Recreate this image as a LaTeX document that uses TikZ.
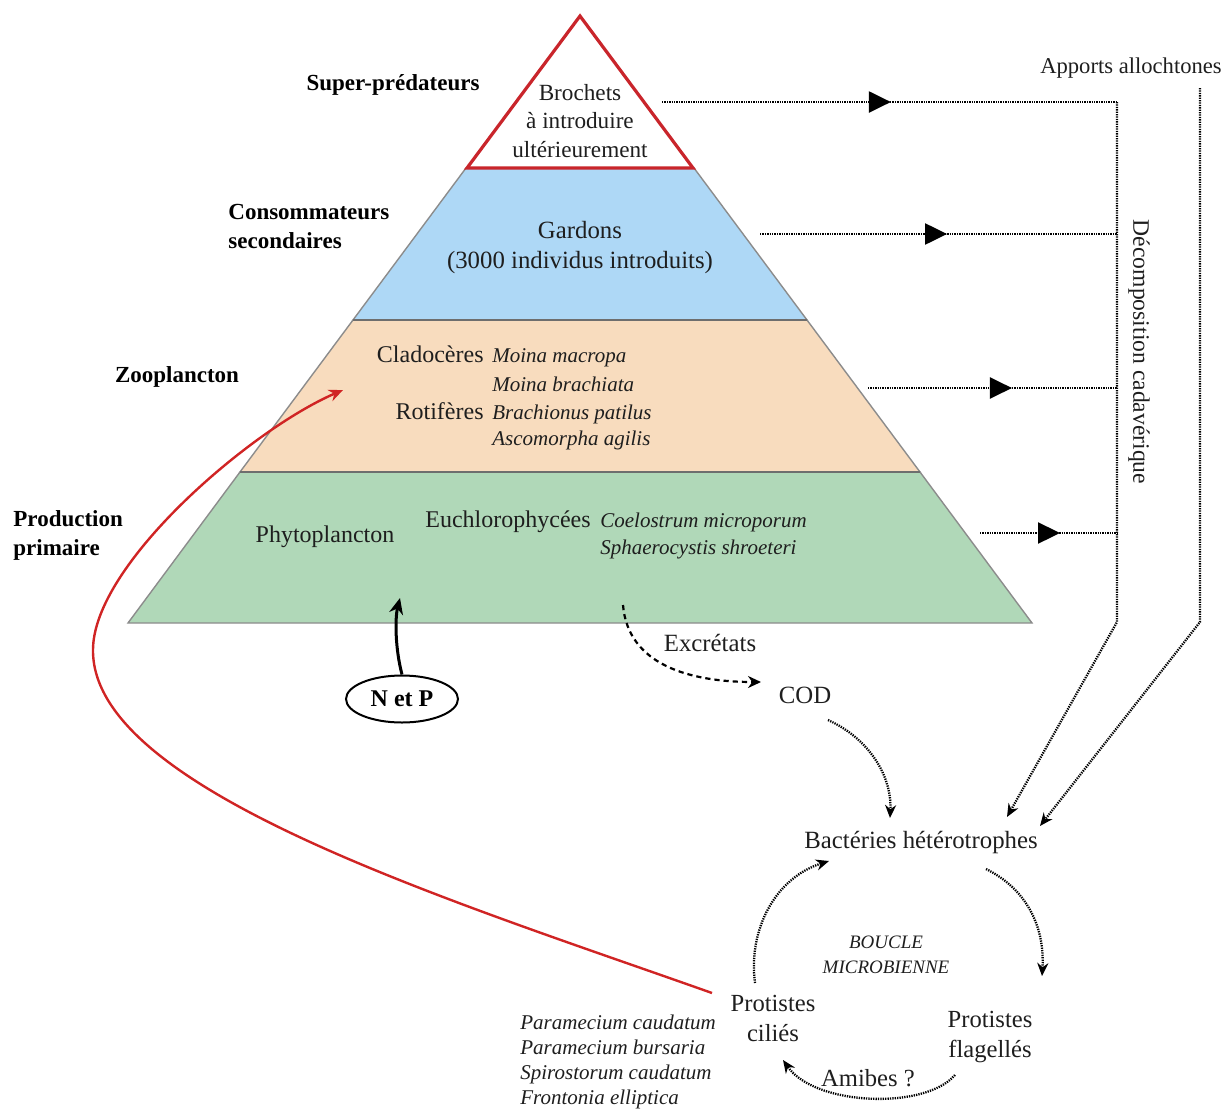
\documentclass[tikz,border=0pt]{standalone}
\usepackage{fontspec}
\setmainfont{Liberation Serif}
\usetikzlibrary{arrows.meta,decorations.markings,calc,shapes.geometric}
\definecolor{pyrblue}{HTML}{AED8F6}
\definecolor{pyrpeach}{HTML}{F8DCBE}
\definecolor{pyrgreen}{HTML}{B0D8B8}
\definecolor{pyrred}{HTML}{C9252B}
\definecolor{edgegray}{HTML}{8C8C8C}
\definecolor{sepgray}{HTML}{6E6E6E}
\definecolor{redarrow}{HTML}{D02424}
\definecolor{txtdark}{HTML}{1E1E1E}
\begin{document}
\begin{tikzpicture}[x=0.5pt,y=-0.5pt,
  txt/.style={font=\fontsize{12}{14.5}\selectfont, inner sep=0pt, align=center, text=txtdark},
  big/.style={font=\fontsize{12.4}{15}\selectfont, inner sep=0pt, align=center, text=txtdark},
  spc/.style={font=\fontsize{10.5}{12.5}\selectfont\itshape, inner sep=0pt, anchor=west, text=txtdark, text height=0.7em, text depth=0.2em},
  lvl/.style={font=\fontsize{11.5}{14.5}\selectfont\bfseries, inner sep=0pt, align=left},
  dotline/.style={line width=1.15pt, dash pattern=on 0.65pt off 0.55pt},
  loophead/.style={-{Stealth[length=6.5pt,width=5.5pt]}},
  midarr/.style={postaction={decorate}, decoration={markings, mark=at position #1 with {\arrow{Triangle[length=11pt,width=10.5pt]}}}}
]
\useasboundingbox (0,0) rectangle (1227,1109);
% pyramid layers
\path[fill=pyrgreen, draw=edgegray, line width=0.7pt] (240,472) -- (920,472) -- (1032,623) -- (128,623) -- cycle;
\path[fill=pyrpeach, draw=edgegray, line width=0.7pt] (353,320) -- (807,320) -- (920,472) -- (240,472) -- cycle;
\path[fill=pyrblue, draw=edgegray, line width=0.7pt] (466,168) -- (694,168) -- (807,320) -- (353,320) -- cycle;
\draw[sepgray, line width=0.9pt] (353,320) -- (807,320);
\draw[sepgray, line width=0.9pt] (240,472) -- (920,472);
\draw[pyrred, fill=white, line width=1.6pt, line join=miter] (580,16) -- (693,168) -- (467,168) -- cycle;

% pyramid texts
\node[txt, font=\fontsize{11.6}{14.25}\selectfont] (brochets) at (580,121) {Brochets\\à introduire\\ultérieurement};
\node[big] (gardons) at (580,248) {Gardons\\(3000 individus introduits)};
\node[txt, anchor=east, text height=0.7em, text depth=0.2em] (clad) at (484,357) {Cladocères};
\node[txt, anchor=east, text height=0.7em, text depth=0.2em] (roti) at (484,414) {Rotifères};
\node[spc] (s1) at (492,357) {Moina macropa};
\node[spc] (s2) at (492,386) {Moina brachiata};
\node[spc] (s3) at (492,414) {Brachionus patilus};
\node[spc] (s4) at (492,440) {Ascomorpha agilis};
\node[txt] (phyto) at (325,537) {Phytoplancton};
\node[txt] (euchl) at (508,522) {Euchlorophycées};
\node[spc] (s5) at (600,522) {Coelostrum microporum};
\node[spc] (s6) at (600,549) {Sphaerocystis shroeteri};

% level labels
\node[lvl] (lsup) at (393,85) {Super-prédateurs};
\node[lvl, anchor=west] (lcons) at (228,226) {Consommateurs\\secondaires};
\node[lvl] (lzoo) at (177,377) {Zooplancton};
\node[lvl, anchor=west] (lprod) at (13,535) {Production\\primaire};

% right side
\node[txt, font=\fontsize{11.3}{14}\selectfont] (apports) at (1131,68) {Apports allochtones};
\node[txt, font=\fontsize{11.8}{14}\selectfont, rotate=-90] (decomp) at (1139,352) {Décomposition cadavérique};

\coordinate (b0) at (662,102);
\coordinate (g0) at (760,234);
\coordinate (z0) at (868,388);
\coordinate (p0) at (980,533);
\coordinate (d1) at (1117,102);
\coordinate (d2) at (1117,234);
\coordinate (d3) at (1117,388);
\coordinate (d4) at (1117,533);
\coordinate (dbot) at (1117,622);
\coordinate (dtip) at (1007,817);
\coordinate (a0) at (1200,88);
\coordinate (abot) at (1200,622);
\coordinate (atip) at (1040,826);

\draw[dotline, midarr=0.503] (b0) -- (d1);
\draw[dotline, midarr=0.524] (g0) -- (d2);
\draw[dotline, midarr=0.578] (z0) -- (d3);
\draw[dotline, midarr=0.584] (p0) -- (d4);
\draw[dotline, loophead] (d1) -- (dbot) -- (dtip);
\draw[dotline, loophead] (a0) -- (abot) -- (atip);

% lower part
\node[draw, ellipse, line width=1pt, minimum width=56pt, minimum height=23.5pt, inner sep=0pt, font=\fontsize{12}{14}\selectfont\bfseries] (np) at (402,699) {N et P};
\coordinate (phyin) at (400,598);
\draw[line width=1.5pt, -{Stealth[length=8pt,width=7pt]}] (np.north) .. controls (395,648) and (395,618) .. (phyin);

\node[big] (excr) at (710,643) {Excrétats};
\node[big] (cod) at (805,695) {COD};
\coordinate (exout) at (623,605);
\coordinate (codin) at (761,682);
\draw[line width=1.1pt, dash pattern=on 2.6pt off 2pt, -{Stealth[length=6.5pt,width=6pt]}] (exout) .. controls (628,665) and (690,682) .. (codin);

\node[big] (bact) at (921,843) {Bactéries hétérotrophes};
\coordinate (codout) at (828,720);
\coordinate (bactin) at (890,818);
\draw[dotline, loophead] (codout) .. controls (868,738) and (892,775) .. (bactin);

\node[big, font=\fontsize{12.3}{15}\selectfont] (cil) at (773,1018) {Protistes\\ciliés};
\node[big, font=\fontsize{12.3}{15}\selectfont] (flag) at (990,1037) {Protistes\\flagellés};
\node[big, font=\fontsize{12.3}{15}\selectfont] (amib) at (868,1078) {Amibes ?};
\node[txt, font=\fontsize{9.5}{12.5}\selectfont\itshape] (boucle) at (886,955) {BOUCLE\\MICROBIENNE};
\node[txt, font=\fontsize{10.5}{12.5}\selectfont\itshape, align=left, anchor=west] (cilsp) at (520,1062) {Paramecium caudatum\\Paramecium bursaria\\Spirostorum caudatum\\Frontonia elliptica};

\coordinate (bactout) at (986,869);
\coordinate (flagin) at (1042,976);
\coordinate (flagout) at (955,1075);
\coordinate (cilin) at (783,1060);
\coordinate (ciltop) at (755,983);
\coordinate (bactin2) at (829,861);
\draw[dotline, loophead] (bactout) .. controls (1025,888) and (1045,925) .. (flagin);
\draw[dotline, loophead] (flagout) .. controls (925,1110) and (815,1106) .. (cilin);
\draw[dotline, loophead] (ciltop) .. controls (748,930) and (775,878) .. (bactin2);

% red arrow
\coordinate (redstart) at (712,993);
\coordinate (zooin) at (343,390);
\draw[redarrow, line width=1.2pt, -{Stealth[length=7pt,width=6pt]}] (redstart) .. controls (450,900) and (92,790) .. (93,650) .. controls (93,565) and (250,430) .. (zooin);
\end{tikzpicture}
\end{document}
